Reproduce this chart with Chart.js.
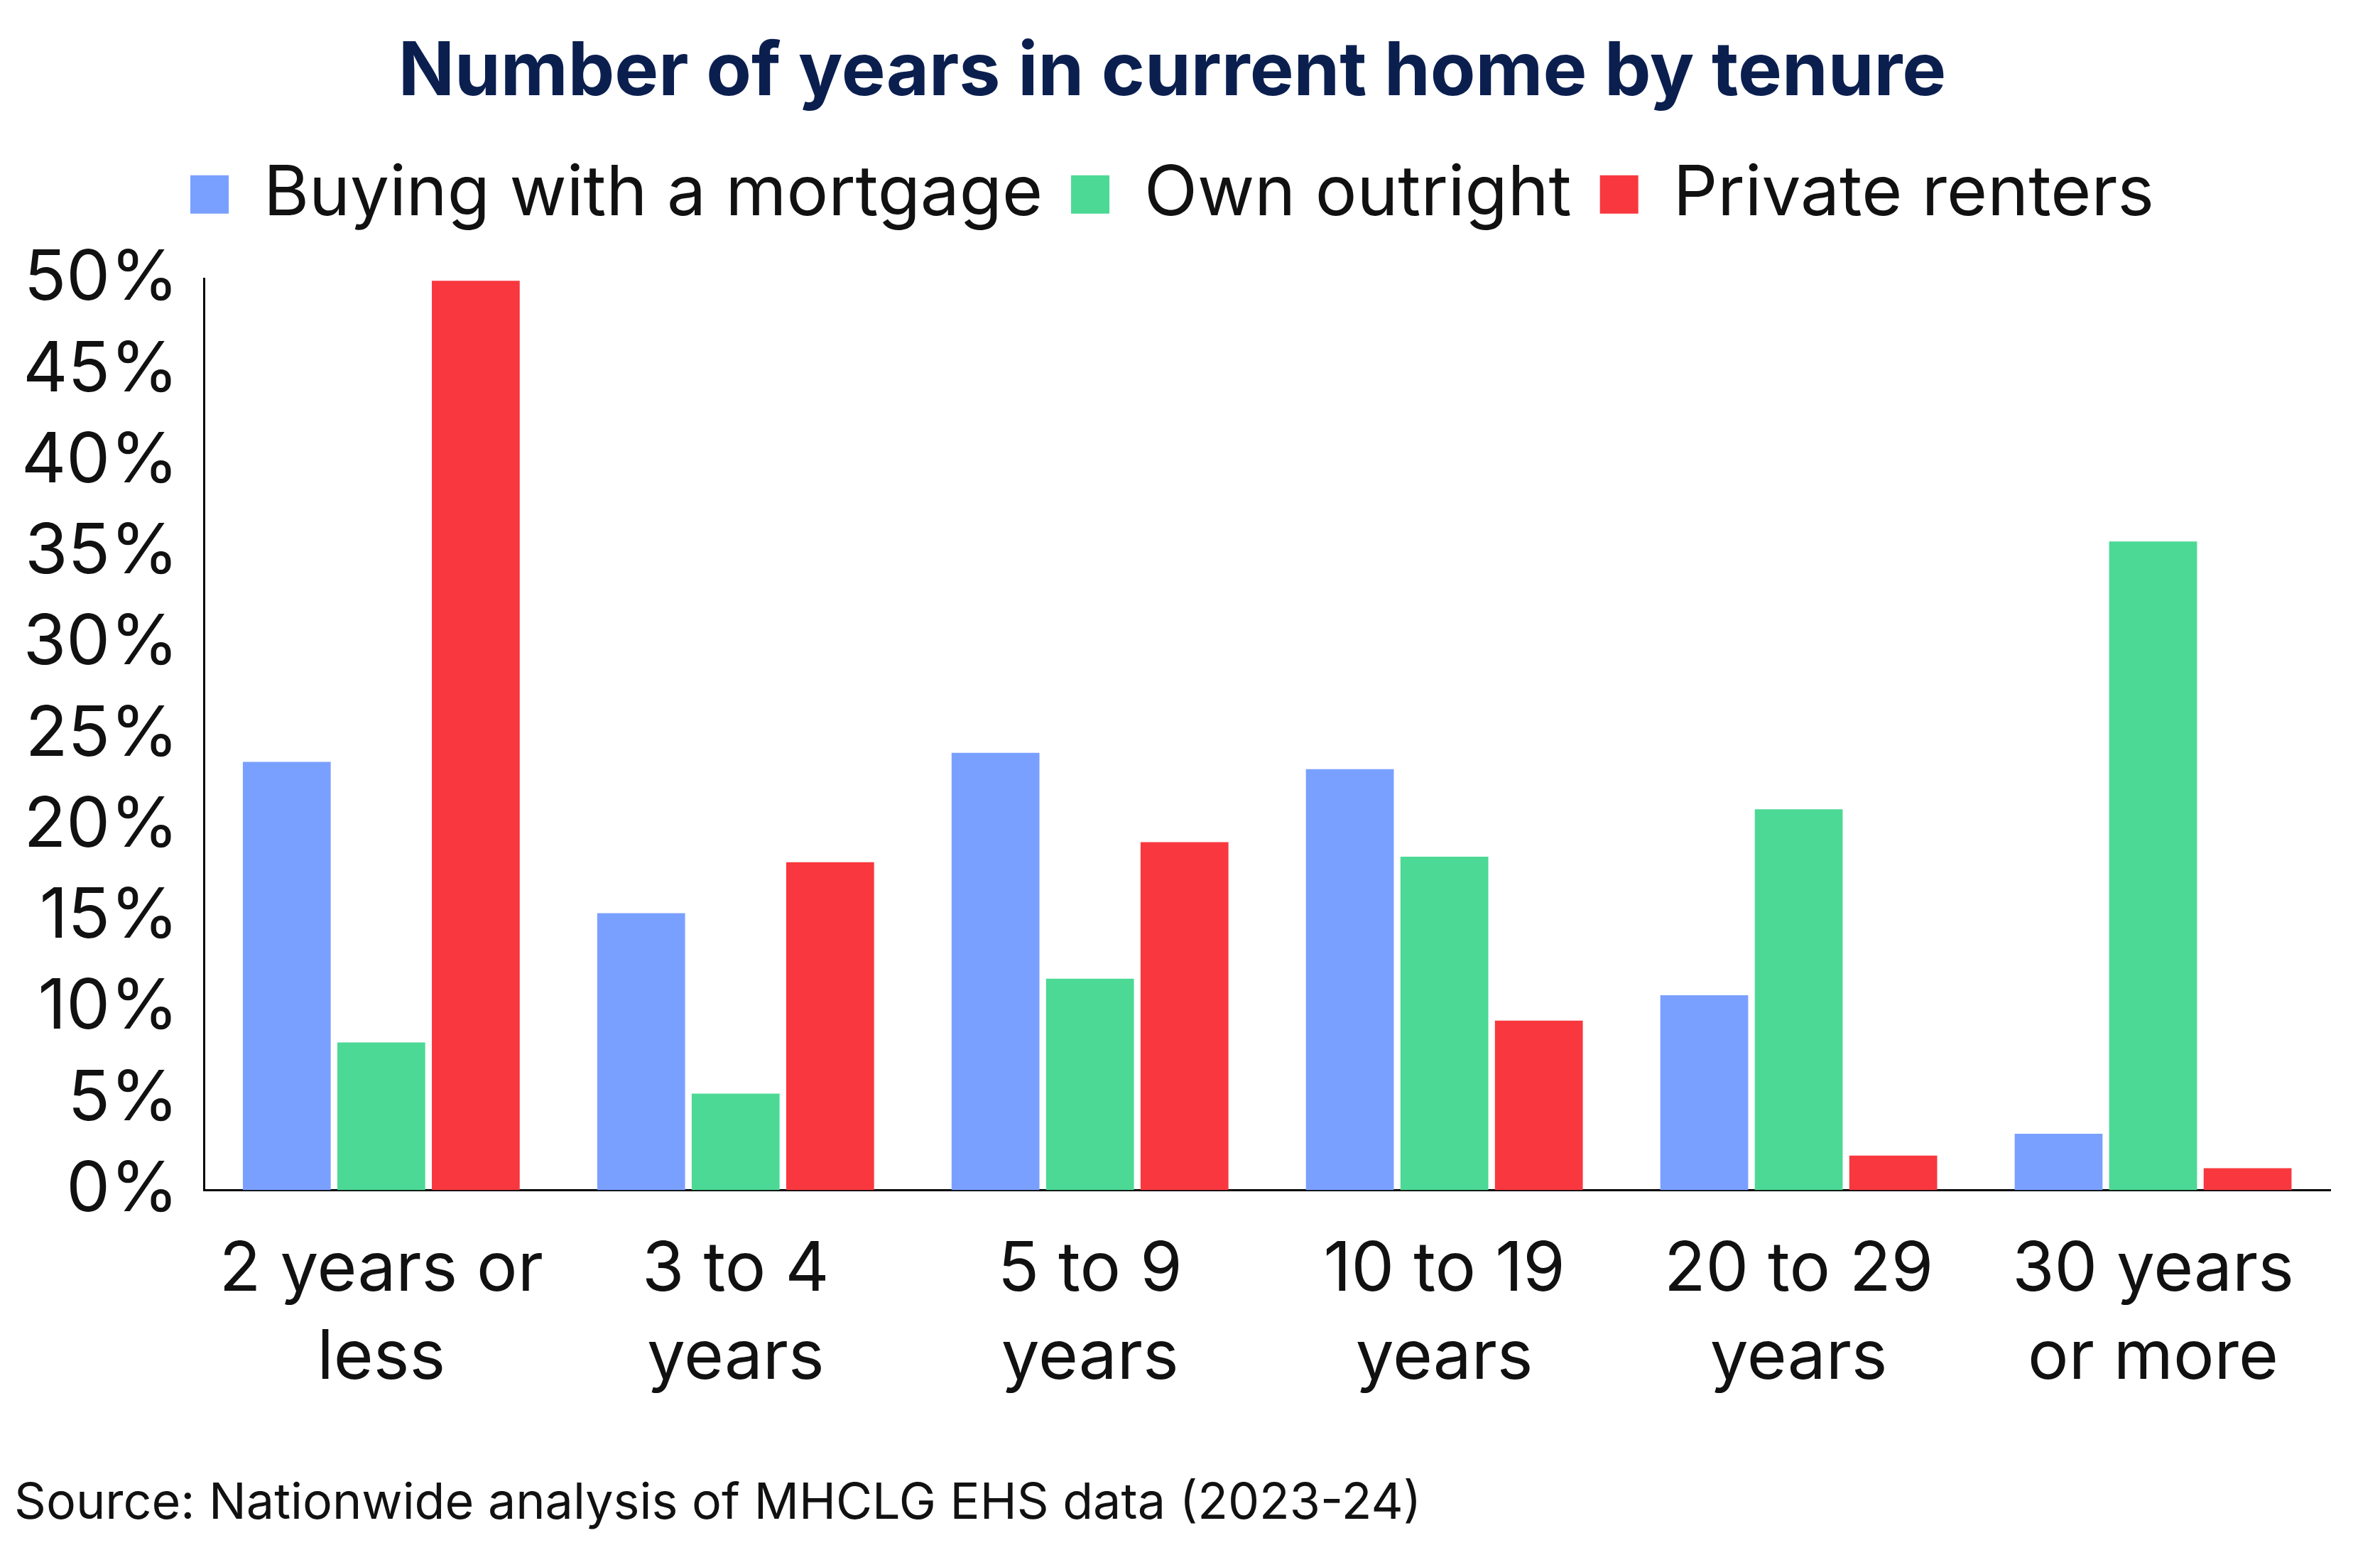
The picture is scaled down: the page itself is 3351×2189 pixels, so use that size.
<!DOCTYPE html>
<html>
<head>
<meta charset="utf-8">
<script src="https://cdn.jsdelivr.net/npm/chart.js@4"></script>
<style>
  html, body { margin: 0; padding: 0; background: #ffffff; }
  #wrap { width: 3351px; height: 2189px; }
</style>
</head>
<body>
<div id="wrap"><canvas id="tenureChart"></canvas></div>
<script>
const categories = [['2 years or', 'less'], ['3 to 4', 'years'], ['5 to 9', 'years'], ['10 to 19', 'years'], ['20 to 29', 'years'], ['30 years', 'or more']];
const mortgage = [23.5, 15.2, 24.0, 23.1, 10.7, 3.1];
const outright = [8.1, 5.3, 11.6, 18.3, 20.9, 35.6];
const renters = [49.9, 18.0, 19.1, 9.3, 1.9, 1.2];
const yTicks = [0, 5, 10, 15, 20, 25, 30, 35, 40, 45, 50];

const fontName = 'Inter, "Noto Sans", sans-serif';

// legend gets extra space underneath so the plot starts lower
const legendGap = {
    id: 'legendGap',
    beforeInit(chart) {
        const fit = chart.legend.fit;
        chart.legend.fit = function () {
            fit.bind(chart.legend)();
            this.height += 60;
        };
    }
};

new Chart(document.getElementById('tenureChart'), {
    type: 'bar',
    data: {
        labels: categories,
        datasets: [
            { label: 'Buying with a mortgage', data: mortgage, backgroundColor: '#7aa0ff' },
            { label: 'Own outright', data: outright, backgroundColor: '#4cd995' },
            { label: 'Private renters', data: renters, backgroundColor: '#f8383e' }
        ]
    },
    plugins: [legendGap],
    options: {
        responsive: true,
        maintainAspectRatio: false,
        devicePixelRatio: 1,
        animation: false,
        datasets: { bar: { categoryPercentage: 0.8, barPercentage: 0.93 } },
        layout: { padding: { left: 20, right: 70, top: 40, bottom: 30 } },
        plugins: {
            title: {
                display: true,
                text: 'Number of years in current home by tenure',
                color: '#0b1f4f',
                font: { family: fontName, size: 104, weight: '700' },
                padding: { top: 0, bottom: 20 }
            },
            subtitle: {
                display: true,
                position: 'bottom',
                align: 'start',
                text: 'Source: Nationwide analysis of MHCLG EHS data (2023-24)',
                color: '#111111',
                font: { family: fontName, size: 70 },
                padding: { top: 50, bottom: 0 }
            },
            legend: {
                position: 'top',
                labels: {
                    color: '#111111',
                    font: { family: fontName, size: 98 },
                    boxWidth: 54,
                    boxHeight: 54,
                    padding: 40
                }
            },
            tooltip: { enabled: false }
        },
        scales: {
            x: {
                grid: { display: false, drawTicks: false },
                border: { color: '#000000', width: 3 },
                ticks: {
                    color: '#111111',
                    font: { family: fontName, size: 96, lineHeight: 1.3 },
                    padding: 50,
                    maxRotation: 0
                }
            },
            y: {
                min: 0,
                max: 50,
                afterBuildTicks: axis => { axis.ticks = yTicks.map(v => ({ value: v })); },
                grid: { display: false, drawOnChartArea: false, drawTicks: true, tickLength: 26, color: '#000000', lineWidth: 3 },
                border: { color: '#000000', width: 3 },
                ticks: {
                    color: '#111111',
                    font: { family: fontName, size: 98 },
                    padding: 10,
                    callback: v => v + '%'
                }
            }
        }
    }
});
</script>
</body>
</html>
